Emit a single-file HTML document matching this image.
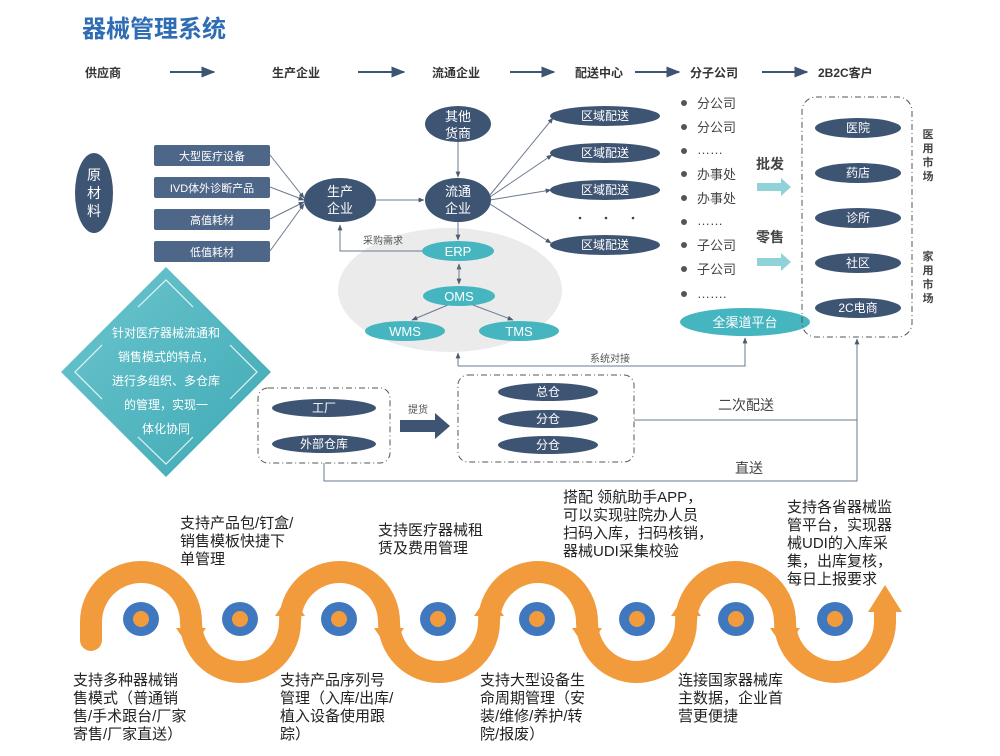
<!DOCTYPE html>
<html><head><meta charset="utf-8"><style>
body{margin:0;background:#fff;}
svg text{font-family:"Liberation Sans","Noto Sans CJK SC",sans-serif;}
.t{position:absolute;font-family:"Liberation Sans","Noto Sans CJK SC",sans-serif;font-size:15px;line-height:18px;color:#222;}
</style></head><body>
<div style="position:relative;width:1000px;height:756px;overflow:hidden">
<svg width="1000" height="756" viewBox="0 0 1000 756" style="position:absolute;left:0;top:0">
<defs>
<marker id="a" viewBox="0 0 10 10" refX="9" refY="5" markerWidth="7" markerHeight="7" orient="auto"><path d="M0,1L10,5L0,9z" fill="#3E5473"/></marker>
<marker id="ag" viewBox="0 0 10 10" refX="9" refY="5" markerWidth="6" markerHeight="6" orient="auto"><path d="M0,1L10,5L0,9z" fill="#4a5a70"/></marker>
<linearGradient id="dg" x1="0" y1="0" x2="1" y2="1"><stop offset="0" stop-color="#6cc6cf"/><stop offset="1" stop-color="#3fa9b4"/></linearGradient>
</defs>
<text x="82" y="37" font-size="24" font-weight="bold" fill="#2E6DB4">器械管理系统</text>
<g font-size="12" font-weight="bold" fill="#333">
<text x="85" y="77">供应商</text><text x="272" y="77">生产企业</text><text x="432" y="77">流通企业</text><text x="575" y="77">配送中心</text><text x="690" y="77">分子公司</text><text x="818" y="77">2B2C客户</text>
</g>
<g stroke="#3E5473" stroke-width="2" marker-end="url(#a)">
<line x1="170" y1="72" x2="214" y2="72"/><line x1="358" y1="72" x2="404" y2="72"/><line x1="510" y1="72" x2="554" y2="72"/><line x1="635" y1="72" x2="679" y2="72"/><line x1="762" y1="72" x2="807" y2="72"/>
</g>
<ellipse cx="450" cy="290" rx="112" ry="62" fill="#ebebeb"/>
<ellipse cx="94" cy="193" rx="19" ry="40" fill="#3E5473"/>
<text x="94" y="180" font-size="14" fill="#fff" text-anchor="middle">原</text><text x="94" y="198" font-size="14" fill="#fff" text-anchor="middle">材</text><text x="94" y="216" font-size="14" fill="#fff" text-anchor="middle">料</text>
<g fill="#4E6687">
<rect x="154" y="145" width="116" height="21" rx="2"/><rect x="154" y="177" width="116" height="21" rx="2"/><rect x="154" y="209" width="116" height="21" rx="2"/><rect x="154" y="241" width="116" height="21" rx="2"/>
</g>
<g font-size="11" fill="#fff" text-anchor="middle">
<text x="212" y="160">大型医疗设备</text><text x="212" y="192">IVD体外诊断产品</text><text x="212" y="224">高值耗材</text><text x="212" y="256">低值耗材</text>
</g>
<g stroke="#6a7a90" stroke-width="1" marker-end="url(#ag)">
<line x1="270" y1="155" x2="304" y2="198"/><line x1="270" y1="187" x2="304" y2="200"/><line x1="270" y1="219" x2="304" y2="202"/><line x1="270" y1="251" x2="304" y2="204"/>
<line x1="376" y1="200" x2="424" y2="200"/><line x1="458" y1="142" x2="458" y2="177"/><line x1="458" y1="222" x2="458" y2="240"/>
<line x1="490" y1="195" x2="553" y2="118"/><line x1="490" y1="197" x2="552" y2="155"/><line x1="490" y1="200" x2="551" y2="190"/><line x1="490" y1="204" x2="551" y2="243"/>
<polyline points="422,251 340,251 340,225" fill="none"/>
<line x1="459" y1="280" x2="459" y2="264"/><line x1="459" y1="266" x2="459" y2="284"/>
<line x1="455" y1="302" x2="412" y2="320"/><line x1="465" y1="302" x2="513" y2="320"/><line x1="458" y1="366" x2="458" y2="353"/>
<polyline points="458,366 745,366 745,338" fill="none"/>
<polyline points="634,420 857,420" fill="none" marker-end="none"/>
<polyline points="324,463 324,481 857,481 857,339" fill="none"/>
</g>
<text x="363" y="244" font-size="10" fill="#555">采购需求</text>
<g fill="#3E5473">
<ellipse cx="340" cy="200" rx="36" ry="22"/><ellipse cx="458" cy="200" rx="33" ry="22"/><ellipse cx="458" cy="124" rx="33" ry="18"/>
<ellipse cx="605" cy="116" rx="55" ry="10"/><ellipse cx="605" cy="153" rx="55" ry="10"/><ellipse cx="605" cy="190" rx="55" ry="10"/><ellipse cx="605" cy="245" rx="55" ry="10"/>
</g>
<g font-size="13" fill="#fff" text-anchor="middle">
<text x="340" y="196">生产</text><text x="340" y="213">企业</text><text x="458" y="196">流通</text><text x="458" y="213">企业</text><text x="458" y="121">其他</text><text x="458" y="138">货商</text>
</g>
<g font-size="12" fill="#fff" text-anchor="middle">
<text x="605" y="120">区域配送</text><text x="605" y="157">区域配送</text><text x="605" y="194">区域配送</text><text x="605" y="249">区域配送</text>
</g>
<g fill="#444"><circle cx="580" cy="218" r="1.3"/><circle cx="606" cy="218" r="1.3"/><circle cx="633" cy="218" r="1.3"/></g>
<g fill="#45B5C0">
<ellipse cx="458" cy="251" rx="36" ry="10"/><ellipse cx="459" cy="296" rx="36" ry="10"/><ellipse cx="405" cy="331" rx="40" ry="10"/><ellipse cx="519" cy="331" rx="40" ry="10"/><ellipse cx="745" cy="322" rx="65" ry="14"/>
</g>
<g font-size="13" fill="#fff" text-anchor="middle">
<text x="458" y="256">ERP</text><text x="459" y="301">OMS</text><text x="405" y="336">WMS</text><text x="519" y="336">TMS</text><text x="745" y="327">全渠道平台</text>
</g>
<g fill="#555"><circle cx="684" cy="103" r="3"/><circle cx="684" cy="127" r="3"/><circle cx="684" cy="151" r="3"/><circle cx="684" cy="174" r="3"/><circle cx="684" cy="198" r="3"/><circle cx="684" cy="222" r="3"/><circle cx="684" cy="245" r="3"/><circle cx="684" cy="269" r="3"/><circle cx="684" cy="294" r="3"/></g>
<g font-size="13" fill="#444">
<text x="697" y="108">分公司</text><text x="697" y="132">分公司</text><text x="697" y="154">……</text><text x="697" y="179">办事处</text><text x="697" y="203">办事处</text><text x="697" y="225">……</text><text x="697" y="250">子公司</text><text x="697" y="274">子公司</text><text x="697" y="298">…….</text>
</g>
<text x="756" y="169" font-size="14" font-weight="bold" fill="#444">批发</text>
<text x="756" y="242" font-size="14" font-weight="bold" fill="#444">零售</text>
<path d="M757,183h24v-5l10,9l-10,9v-5h-24z" fill="#8fd3d8"/>
<path d="M757,258h24v-5l10,9l-10,9v-5h-24z" fill="#8fd3d8"/>
<rect x="802" y="97" width="110" height="240" rx="14" fill="none" stroke="#555" stroke-dasharray="6,3,1,3"/>
<g fill="#3E5473"><ellipse cx="858" cy="128" rx="43" ry="10"/><ellipse cx="858" cy="173" rx="43" ry="10"/><ellipse cx="858" cy="218" rx="43" ry="10"/><ellipse cx="858" cy="263" rx="43" ry="10"/><ellipse cx="858" cy="308" rx="43" ry="10"/></g>
<g font-size="12" fill="#fff" text-anchor="middle"><text x="858" y="132">医院</text><text x="858" y="177">药店</text><text x="858" y="222">诊所</text><text x="858" y="267">社区</text><text x="858" y="312">2C电商</text></g>
<g font-size="11" font-weight="bold" fill="#444" text-anchor="middle">
<text x="928" y="138">医</text><text x="928" y="152">用</text><text x="928" y="166">市</text><text x="928" y="180">场</text>
<text x="928" y="260">家</text><text x="928" y="274">用</text><text x="928" y="288">市</text><text x="928" y="302">场</text>
</g>
<text x="590" y="362" font-size="10" fill="#555">系统对接</text>
<path d="M166,267L271,372L166,477L61,372z" fill="url(#dg)"/>
<g stroke="#fff" stroke-width="1.2" fill="none" opacity="0.85">
<polyline points="138,307 166,280 193,307"/><polyline points="102,345 75,372 102,399"/><polyline points="230,345 257,372 230,399"/><polyline points="138,437 166,464 193,437"/>
</g>
<g font-size="12" fill="#fff" text-anchor="middle">
<text x="166" y="337">针对医疗器械流通和</text><text x="166" y="361">销售模式的特点，</text><text x="166" y="385">进行多组织、多仓库</text><text x="166" y="409">的管理，实现一</text><text x="166" y="433">体化协同</text>
</g>
<rect x="258" y="388" width="132" height="75" rx="10" fill="none" stroke="#555" stroke-dasharray="6,3,1,3"/>
<rect x="458" y="375" width="176" height="87" rx="10" fill="none" stroke="#555" stroke-dasharray="6,3,1,3"/>
<g fill="#3E5473"><ellipse cx="324" cy="408" rx="52" ry="9"/><ellipse cx="324" cy="444" rx="52" ry="9"/><ellipse cx="548" cy="392" rx="50" ry="9"/><ellipse cx="548" cy="419" rx="50" ry="9"/><ellipse cx="548" cy="445" rx="50" ry="9"/></g>
<g font-size="12" fill="#fff" text-anchor="middle"><text x="324" y="412">工厂</text><text x="324" y="448">外部仓库</text><text x="548" y="396">总仓</text><text x="548" y="423">分仓</text><text x="548" y="449">分仓</text></g>
<text x="408" y="413" font-size="10" fill="#555">提货</text>
<path d="M400,420h35v-7l15,13l-15,13v-7h-35z" fill="#3E5473"/>
<text x="718" y="410" font-size="14" fill="#444">二次配送</text>
<text x="735" y="473" font-size="14" fill="#444">直送</text>
<path d="M91,640 L91,622 A50,50 0 0 1 191,622 A49.5,50 0 0 0 290,622 A49.5,50 0 0 1 389,622 A50,50 0 0 0 489,622 A49,50 0 0 1 587,622 A49.5,50 0 0 0 686,622 A49.5,50 0 0 1 785,622 A50,50 0 0 0 885,622 L885,612" fill="none" stroke="#F29B3C" stroke-width="22" stroke-linecap="round"/>
<path d="M868,612 L885,585 L902,612z" fill="#F29B3C"/>
<g fill="#F29B3C"><path d="M176,628L191,650L206,628z"/><path d="M275,616L290,594L305,616z"/><path d="M374,628L389,650L404,628z"/><path d="M474,616L489,594L504,616z"/><path d="M572,628L587,650L602,628z"/><path d="M671,616L686,594L701,616z"/><path d="M770,628L785,650L800,628z"/></g>
<g><ellipse cx="141" cy="619" rx="18" ry="17" fill="#3F78BE"/><ellipse cx="240" cy="619" rx="18" ry="17" fill="#3F78BE"/><ellipse cx="339" cy="619" rx="18" ry="17" fill="#3F78BE"/><ellipse cx="438" cy="619" rx="18" ry="17" fill="#3F78BE"/><ellipse cx="537" cy="619" rx="18" ry="17" fill="#3F78BE"/><ellipse cx="637" cy="619" rx="18" ry="17" fill="#3F78BE"/><ellipse cx="736" cy="619" rx="18" ry="17" fill="#3F78BE"/><ellipse cx="835" cy="619" rx="18" ry="17" fill="#3F78BE"/></g>
<g fill="#F29B3C"><circle cx="141" cy="619" r="8"/><circle cx="240" cy="619" r="8"/><circle cx="339" cy="619" r="8"/><circle cx="438" cy="619" r="8"/><circle cx="537" cy="619" r="8"/><circle cx="637" cy="619" r="8"/><circle cx="736" cy="619" r="8"/><circle cx="835" cy="619" r="8"/></g>
</svg>
<div class="t" style="left:180px;top:515px">支持产品包/钉盒/<br>销售模板快捷下<br>单管理</div>
<div class="t" style="left:378px;top:522px">支持医疗器械租<br>赁及费用管理</div>
<div class="t" style="left:563px;top:489px">搭配 领航助手APP，<br>可以实现驻院办人员<br>扫码入库，扫码核销，<br>器械UDI采集校验</div>
<div class="t" style="left:787px;top:499px">支持各省器械监<br>管平台，实现器<br>械UDI的入库采<br>集，出库复核，<br>每日上报要求</div>
<div class="t" style="left:73px;top:672px">支持多种器械销<br>售模式（普通销<br>售/手术跟台/厂家<br>寄售/厂家直送）</div>
<div class="t" style="left:280px;top:672px">支持产品序列号<br>管理（入库/出库/<br>植入设备使用跟<br>踪）</div>
<div class="t" style="left:480px;top:672px">支持大型设备生<br>命周期管理（安<br>装/维修/养护/转<br>院/报废）</div>
<div class="t" style="left:678px;top:672px">连接国家器械库<br>主数据，企业首<br>营更便捷</div>
</div>
</body></html>
